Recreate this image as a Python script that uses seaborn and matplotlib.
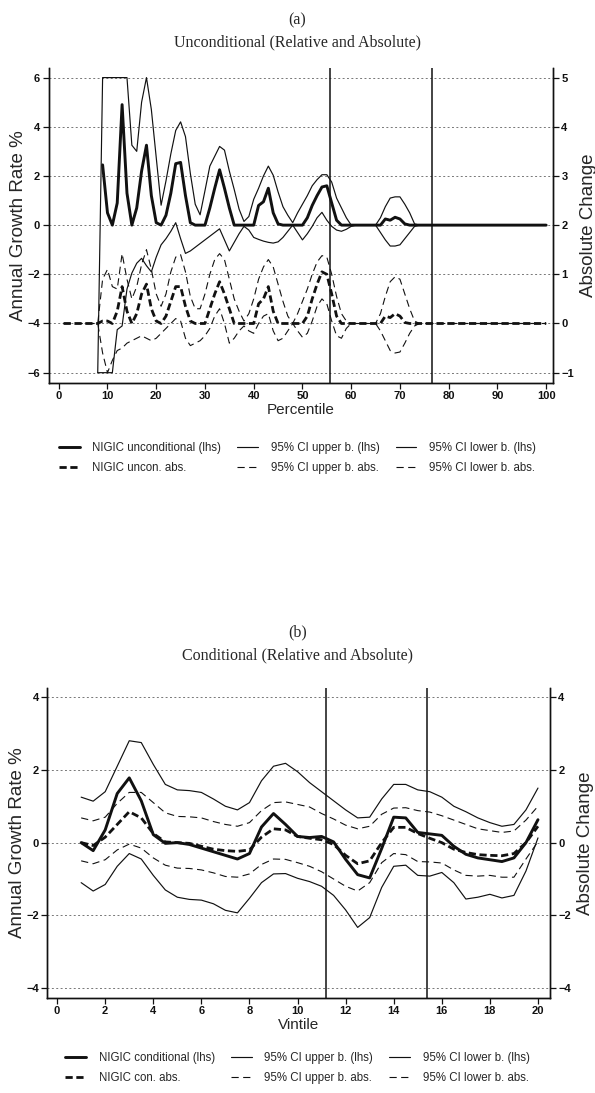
import matplotlib
matplotlib.use('Agg')
import matplotlib.pyplot as plt
from matplotlib.lines import Line2D
import seaborn as sns

sns.set_theme(style='ticks')
plt.rcParams['font.family'] = ['Liberation Sans', 'DejaVu Sans']

# ---------------- panel (a): unconditional, by percentile ----------------
pct_main = list(range(9, 101))
pct_ci = list(range(8, 101))
pct_abs = list(range(1, 101))
flat_tail = [0.0] * 26          # percentiles 75-100 sit on zero

uncond_rel = [2.45, 0.5, 0.0, 0.9, 4.9, 1.3, 0.0, 0.7, 2.2,
              3.25, 1.2, 0.1, 0.0, 0.4, 1.3, 2.5, 2.55, 1.2, 0.1,
              0, 0, 0, 0.7, 1.5, 2.25, 1.5, 0.7, 0, 0,
              0, 0, 0, 0.8, 0.95, 1.5, 0.5, 0.05, 0, 0,
              0, 0, 0, 0.3, 0.8, 1.2, 1.55, 1.6, 0.9, 0.2,
              0, 0, 0, 0, 0, 0, 0, 0, 0, 0.25,
              0.2, 0.32, 0.25, 0.05, 0, 0, 0] + flat_tail
uncond_rel_hi = [-6, 6, 6, 6, 6, 6, 6, 3.25, 3.0, 5.0,
                 6.0, 4.7, 2.75, 0.81, 1.8, 2.9, 3.85, 4.2, 3.6, 2.1,
                 0.85, 0.42, 1.4, 2.4, 2.8, 3.2, 3.05, 2.2, 1.45, 0.65,
                 0.15, 0.35, 1.05, 1.5, 2.0, 2.4, 2.03, 1.35, 0.75, 0.4,
                 0.1, 0.5, 0.85, 1.2, 1.6, 1.85, 2.05, 2.05, 1.75, 1.1,
                 0.7, 0.3, 0, 0, 0, 0, 0, 0, 0.3, 0.75,
                 1.1, 1.15, 1.15, 0.85, 0.5, 0.05, 0] + flat_tail
uncond_rel_lo = [-6, -6, -6, -6, -4.25, -4.1, -2.6, -1.95, -1.55, -1.35,
                 -1.65, -1.9, -1.3, -0.8, -0.55, -0.25, 0.1, -0.55, -1.15, -1.05,
                 -0.9, -0.75, -0.6, -0.45, -0.3, -0.15, -0.6, -1.05, -0.7, -0.35,
                 -0.05, -0.2, -0.5, -0.58, -0.65, -0.7, -0.73, -0.68, -0.5, -0.25,
                 0, -0.3, -0.6, -0.35, -0.05, 0.3, 0.52, 0.2, -0.05, -0.2,
                 -0.25, -0.17, -0.05, 0, 0, 0, 0, 0, -0.3, -0.6,
                 -0.85, -0.85, -0.8, -0.55, -0.3, -0.05, 0] + flat_tail

uncond_abs = [0, 0, 0, 0, 0, 0, 0, 0,
              0.05, 0.05, 0, 0.25, 0.75, 0.25, 0, 0.2, 0.6, 0.8,
              0.3, 0.05, 0, 0.15, 0.45, 0.75, 0.75, 0.35, 0.05, 0,
              0, 0, 0.3, 0.6, 0.85, 0.6, 0.3, 0, 0, 0,
              0, 0, 0.4, 0.5, 0.75, 0.25, 0, 0, 0, 0,
              0, 0, 0.15, 0.5, 0.8, 1.05, 1.0, 0.6, 0.15, 0,
              0, 0, 0, 0, 0, 0, 0, 0, 0.15, 0.12,
              0.2, 0.15, 0.02, 0, 0, 0] + flat_tail
uncond_abs_hi = [0, 0, 0, 0, 0, 0, 0, 0,
                 0.9, 1.1, 0.75, 0.7, 1.42, 0.9, 0.5, 0.75, 1.2, 1.5,
                 1.1, 0.6, 0.35, 0.6, 1.05, 1.35, 1.4, 1.05, 0.55, 0.3,
                 0.3, 0.6, 1.0, 1.3, 1.42, 1.3, 0.9, 0.5, 0.25, 0.05,
                 0.2, 0.5, 0.9, 1.15, 1.3, 1.15, 0.8, 0.45, 0.15, 0,
                 0.2, 0.45, 0.7, 1.0, 1.25, 1.38, 1.35, 1.0, 0.55, 0.2,
                 0.05, 0, 0, 0, 0, 0, 0, 0.2, 0.55, 0.85,
                 0.95, 0.9, 0.6, 0.3, 0.05, 0] + flat_tail
uncond_abs_lo = [0, 0, 0, 0, 0, 0, 0, 0,
                 -0.6, -1.0, -0.75, -0.55, -0.5, -0.4, -0.35, -0.3, -0.25, -0.3,
                 -0.35, -0.3, -0.2, -0.1, 0.0, 0.1, 0.05, -0.3, -0.45, -0.4,
                 -0.35, -0.25, -0.1, 0.15, 0.3, 0.0, -0.4, -0.3, -0.15, -0.05,
                 -0.15, -0.2, 0.0, 0.15, 0.2, -0.15, -0.35, -0.3, -0.15, 0,
                 -0.15, -0.28, -0.2, 0.05, 0.35, 0.5, 0.4, 0.05, -0.25, -0.3,
                 -0.1, 0, 0, 0, 0, 0, 0, -0.15, -0.35, -0.55,
                 -0.6, -0.58, -0.4, -0.2, -0.05, 0] + flat_tail

# ---------------- panel (b): conditional, by vintile ----------------
vintile = [1.0, 1.5, 2.0, 2.5, 3.0, 3.5, 4.0, 4.5, 5.0, 5.5,
           6.0, 6.5, 7.0, 7.5, 8.0, 8.5, 9.0, 9.5, 10.0, 10.5,
           11.0, 11.5, 12.0, 12.5, 13.0, 13.5, 14.0, 14.5, 15.0, 15.5,
           16.0, 16.5, 17.0, 17.5, 18.0, 18.5, 19.0, 19.5, 20.0]
cond_rel = [0.0, -0.22, 0.35, 1.35, 1.78, 1.15, 0.22, -0.02, 0.0, -0.05,
            -0.15, -0.25, -0.35, -0.45, -0.3, 0.43, 0.8, 0.5, 0.17, 0.14,
            0.17, 0.02, -0.46, -0.88, -0.97, -0.16, 0.7, 0.68, 0.28, 0.24,
            0.2, -0.1, -0.32, -0.42, -0.47, -0.52, -0.42, 0.0, 0.63]
cond_rel_hi = [1.25, 1.14, 1.4, 2.1, 2.8, 2.75, 2.15, 1.6, 1.45, 1.43,
               1.38, 1.2, 1.0, 0.9, 1.1, 1.7, 2.1, 2.18, 1.95, 1.65,
               1.4, 1.15, 0.9, 0.68, 0.7, 1.2, 1.6, 1.6, 1.45, 1.4,
               1.25, 1.0, 0.85, 0.68, 0.55, 0.45, 0.5, 0.9, 1.5]
cond_rel_lo = [-1.1, -1.33, -1.15, -0.65, -0.3, -0.45, -0.9, -1.3, -1.5, -1.56,
               -1.58, -1.68, -1.86, -1.93, -1.53, -1.1, -0.86, -0.85, -0.98, -1.07,
               -1.2, -1.45, -1.85, -2.33, -2.06, -1.23, -0.65, -0.62, -0.9, -0.92,
               -0.82, -1.1, -1.55, -1.5, -1.42, -1.52, -1.45, -0.78, 0.13]
cond_abs = [0.0, -0.08, 0.15, 0.5, 0.85, 0.68, 0.25, 0.02, 0.0, -0.02,
            -0.1, -0.18, -0.22, -0.24, -0.2, 0.15, 0.38, 0.35, 0.17, 0.12,
            0.08, -0.05, -0.35, -0.58, -0.5, 0.0, 0.42, 0.42, 0.25, 0.12,
            0.0, -0.18, -0.27, -0.33, -0.35, -0.36, -0.3, 0.0, 0.45]
cond_abs_hi = [0.68, 0.6, 0.7, 1.08, 1.38, 1.38, 1.1, 0.82, 0.72, 0.71,
               0.68, 0.58, 0.5, 0.45, 0.55, 0.88, 1.1, 1.12, 1.05, 0.98,
               0.8, 0.65, 0.48, 0.38, 0.45, 0.78, 0.95, 0.96, 0.88, 0.84,
               0.74, 0.62, 0.5, 0.38, 0.33, 0.28, 0.32, 0.62, 1.0]
cond_abs_lo = [-0.5, -0.58, -0.47, -0.2, -0.04, -0.15, -0.42, -0.62, -0.7, -0.71,
               -0.75, -0.83, -0.93, -0.95, -0.86, -0.6, -0.45, -0.46, -0.55, -0.65,
               -0.8, -1.0, -1.2, -1.33, -1.1, -0.55, -0.3, -0.33, -0.52, -0.53,
               -0.56, -0.75, -0.9, -0.92, -0.9, -0.95, -0.95, -0.45, 0.03]

INK = '#111111'
BOLD = dict(lw=2.1, ls='-')
THIN = dict(lw=0.85, ls='-')
BOLD_DASH = dict(lw=2.0, ls=(0, (2.6, 1.3)))
THIN_DASH = dict(lw=0.8, ls=(0, (6.5, 4)))


def line(ax, x, y, style):
    sns.lineplot(x=x, y=y, ax=ax, color=INK, lw=style['lw'], linestyle=style['ls'],
                 estimator=None, sort=False, legend=False)


def style_axes(ax, ax2, yt, yt2, xt):
    for a in (ax, ax2):
        a.spines['top'].set_visible(False)
        for s in ('left', 'right', 'bottom'):
            a.spines[s].set_color(INK)
            a.spines[s].set_linewidth(1.0)
        a.tick_params(direction='out', length=4, width=0.9, colors=INK,
                      labelsize=8, pad=2)
    ax.set_yticks(yt)
    ax2.set_yticks(yt2)
    ax.set_xticks(xt)
    for a in (ax, ax2):
        for t in a.get_xticklabels() + a.get_yticklabels():
            t.set_fontweight('bold')
    for y in yt:
        ax.axhline(y, color='#777777', lw=0.7, ls=(0, (2, 2.5)), zorder=0)
    ax.set_ylabel('Annual Growth Rate %', fontsize=13.5, labelpad=0)
    ax2.set_ylabel('Absolute Change', fontsize=13.5, labelpad=4)


def legend(fig, labels, y):
    styles = [BOLD, BOLD_DASH, THIN, THIN_DASH, THIN, THIN_DASH]
    handles = [Line2D([], [], color=INK, lw=s['lw'], ls=s['ls']) for s in styles]
    fig.legend(handles, labels, loc='center', bbox_to_anchor=(0.5, y), ncol=3,
               frameon=False, fontsize=8.3, handlelength=1.8, handletextpad=1.1,
               columnspacing=1.4, labelspacing=0.75)


W, H = 595, 1093
fig = plt.figure(figsize=(W / 100, H / 100), dpi=100)
serif = ['Liberation Serif', 'DejaVu Serif']

# ---- panel (a)
fig.text(0.5, 1 - 20 / H, '(a)', ha='center', va='center', fontsize=11.5, family=serif)
fig.text(0.5, 1 - 42 / H, 'Unconditional (Relative and Absolute)', ha='center',
         va='center', fontsize=11.5, family=serif)
ax = fig.add_axes([48.5 / W, 1 - 383 / H, 504.5 / W, 315 / H])
ax2 = ax.twinx()
line(ax, pct_ci, uncond_rel_hi, THIN)
line(ax, pct_ci, uncond_rel_lo, THIN)
line(ax, pct_main, uncond_rel, BOLD)
line(ax2, pct_abs, uncond_abs_hi, THIN_DASH)
line(ax2, pct_abs, uncond_abs_lo, THIN_DASH)
line(ax2, pct_abs, uncond_abs, BOLD_DASH)
for xv in (55.7, 76.6):
    ax.axvline(xv, color=INK, lw=1.1)
ax.set_xlim(-2.1, 101.4)
ax.set_ylim(-6.42, 6.39)
ax2.set_ylim(-6.42 / 2 + 2, 6.39 / 2 + 2)
style_axes(ax, ax2, [-6, -4, -2, 0, 2, 4, 6], [-1, 0, 1, 2, 3, 4, 5], range(0, 101, 10))
ax.set_xlabel('Percentile', fontsize=11, labelpad=1)
legend(fig, ['NIGIC unconditional (lhs)', 'NIGIC uncon. abs.',
             '95% CI upper b. (lhs)', '95% CI upper b. abs.',
             '95% CI lower b. (lhs)', '95% CI lower b. abs.'], 1 - 458 / H)

# ---- panel (b)
fig.text(0.5, 1 - 632 / H, '(b)', ha='center', va='center', fontsize=11.5, family=serif)
fig.text(0.5, 1 - 655 / H, 'Conditional (Relative and Absolute)', ha='center',
         va='center', fontsize=11.5, family=serif)
bx = fig.add_axes([47.5 / W, 1 - 998 / H, 502.5 / W, 310 / H])
bx2 = bx.twinx()
line(bx, vintile, cond_rel_hi, THIN)
line(bx, vintile, cond_rel_lo, THIN)
line(bx, vintile, cond_rel, BOLD)
line(bx2, vintile, cond_abs_hi, THIN_DASH)
line(bx2, vintile, cond_abs_lo, THIN_DASH)
line(bx2, vintile, cond_abs, BOLD_DASH)
for xv in (11.2, 15.4):
    bx.axvline(xv, color=INK, lw=1.1)
bx.set_xlim(-0.4, 20.5)
bx.set_ylim(-4.27, 4.25)
bx2.set_ylim(-4.27, 4.25)
style_axes(bx, bx2, [-4, -2, 0, 2, 4], [-4, -2, 0, 2, 4], range(0, 21, 2))
bx.set_xlabel('Vintile', fontsize=11, labelpad=1)
legend(fig, ['NIGIC conditional (lhs)', 'NIGIC con. abs.',
             '95% CI upper b. (lhs)', '95% CI upper b. abs.',
             '95% CI lower b. (lhs)', '95% CI lower b. abs.'], 1 - 1068 / H)

fig.savefig('out.png', dpi=100)
